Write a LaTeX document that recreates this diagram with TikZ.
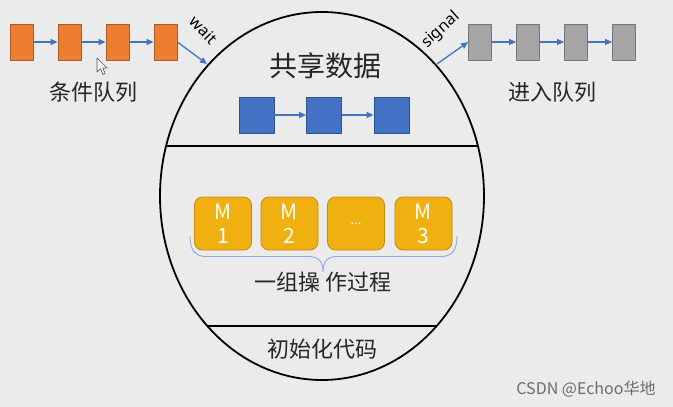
\documentclass[tikz,border=0pt]{standalone}
\usepackage{fontspec}
\setmainfont{Noto Sans}
\newfontfamily\cjk{Noto Sans CJK SC}
\usetikzlibrary{arrows.meta}
\definecolor{bgc}{RGB}{235,235,235}
\definecolor{orgf}{RGB}{237,125,49}
\definecolor{orgd}{RGB}{174,90,33}
\definecolor{gryf}{RGB}{165,165,165}
\definecolor{gryd}{RGB}{118,118,118}
\definecolor{bluf}{RGB}{68,114,196}
\definecolor{blud}{RGB}{47,82,143}
\definecolor{goldf}{RGB}{240,176,16}
\definecolor{goldd}{RGB}{196,140,10}
\definecolor{brc}{RGB}{143,170,220}
\definecolor{txt}{RGB}{38,38,38}
\tikzset{
  qbox/.style={draw, line width=0.8pt, minimum width=23pt, minimum height=36pt, inner sep=0pt},
  obox/.style={qbox, fill=orgf, draw=orgd},
  gbox/.style={qbox, fill=gryf, draw=gryd},
  bbox/.style={draw=blud, fill=bluf, line width=0.8pt, minimum width=35pt, minimum height=36pt, inner sep=0pt},
  mbox/.style={draw=goldd, fill=goldf, line width=0.8pt, rounded corners=8pt, minimum width=57pt, minimum height=53pt, inner sep=0pt,
     text=white, align=center, font=\cjk\fontsize{21}{24}\selectfont},
  link/.style={draw=bluf, line width=1.3pt, -{Triangle[length=7pt,width=6pt]}},
  ctext/.style={text=txt, font=\cjk\fontsize{22}{26}\selectfont, inner sep=0pt},
  ltext/.style={text=black, font=\fontsize{16}{18}\selectfont, inner sep=0pt},
  sepline/.style={line width=1.6pt, black}
}
\begin{document}
\begin{tikzpicture}[x=1pt,y=-1pt]
\fill[bgc] (0,0) rectangle (673,407);
\useasboundingbox (0,0) rectangle (673,407);

% big ellipse and separators
\draw[line width=1.8pt] (322,196) ellipse [x radius=162pt, y radius=184pt];
\coordinate (s1l) at (166.1,146);
\coordinate (s1r) at (477.9,146);
\coordinate (s2l) at (207.4,326);
\coordinate (s2r) at (436.6,326);
\draw[sepline] (s1l) -- (s1r);
\draw[sepline] (s2l) -- (s2r);

% condition queue
\node[obox] (o1) at (21.5,42) {};
\node[obox] (o2) at (69.5,42) {};
\node[obox] (o3) at (117.5,42) {};
\node[obox] (o4) at (165.5,42) {};
\draw[link] (o1) -- (o2);
\draw[link] (o2) -- (o3);
\draw[link] (o3) -- (o4);
\coordinate (wend) at (207,64);
\draw[link] (o4.east) -- (wend);
\node[ltext, rotate=-46] (wait) at (204,30) {wait};
\node[ctext] (cq) at (93,92) {条件队列};

% entry queue
\node[gbox] (g1) at (480,42) {};
\node[gbox] (g2) at (528,42) {};
\node[gbox] (g3) at (576,42) {};
\node[gbox] (g4) at (624,42) {};
\draw[link] (g1) -- (g2);
\draw[link] (g2) -- (g3);
\draw[link] (g3) -- (g4);
\coordinate (sstart) at (437,64);
\draw[link] (sstart) -- (g1.west);
\node[ltext, rotate=42] (signal) at (441,30) {signal};
\node[ctext] (eq) at (552,92) {进入队列};

% shared data
\node[text=txt, font=\cjk\fontsize{28}{32}\selectfont, inner sep=0pt] (sd) at (325,66) {共享数据};
\node[bbox] (b1) at (256.5,115) {};
\node[bbox] (b2) at (324,115) {};
\node[bbox] (b3) at (391.5,115) {};
\draw[link] (b1) -- (b2);
\draw[link] (b2) -- (b3);

% operations
\node[mbox] (m1) at (223,223.5) {M\\1};
\node[mbox] (m2) at (289.5,223.5) {M\\2};
\node[mbox, font=\cjk\fontsize{13}{15}\selectfont] (m3) at (356,223.5) {...};
\node[mbox] (m4) at (423.5,223.5) {M\\3};
\draw[brc, line width=0.9pt] (190,236) .. controls (190,250) and (195,256.5) .. (206,256.5)
  -- (309,256.5) .. controls (319,256.5) and (323,262) .. (323,272)
  .. controls (323,262) and (327,256.5) .. (337,256.5)
  -- (441,256.5) .. controls (452,256.5) and (457,250) .. (457,236);
\node[ctext] (ops) at (323,282) {一组操 作过程};

% init code
\node[ctext] (init) at (322,349) {初始化代码};

% mouse cursor
\draw[gray!70!black, fill=white!92!gray, line width=0.6pt, line join=round]
  (97,58) -- (97,72) -- (100.5,68.8) -- (103,74.5) -- (105.2,73.5) -- (102.8,68) -- (107,68) -- cycle;

% watermark
\node[text=gray!85!black, font=\cjk\fontsize{16}{18}\selectfont, inner sep=0pt] (wm) at (586,389) {CSDN @Echoo华地};
\end{tikzpicture}
\end{document}
